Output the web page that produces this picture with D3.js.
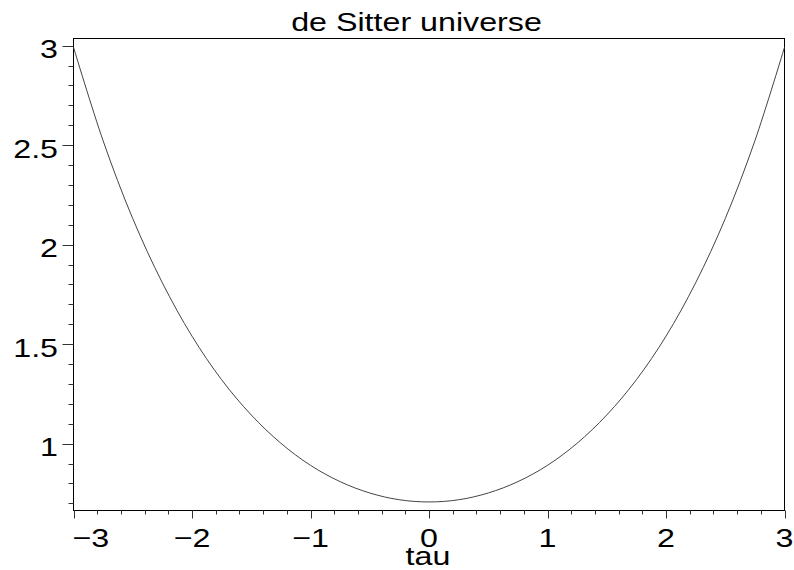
<!DOCTYPE html>
<html>
<head>
<meta charset="utf-8">
<script src="https://cdn.jsdelivr.net/npm/d3@7"></script>
<style>
  html, body { margin: 0; padding: 0; background: #fff; }
  svg { display: block; }
  text { font-family: "Liberation Sans", Arial, Helvetica, sans-serif; fill: #000; }
</style>
</head>
<body>
<svg id="chart" width="794" height="570"></svg>
<script>
// ---- data ----
const tau = [-3, -2.75, -2.5, -2.25, -2, -1.75, -1.5, -1.25, -1, -0.75, -0.5, -0.25,
             0, 0.25, 0.5, 0.75, 1, 1.25, 1.5, 1.75, 2, 2.25, 2.5, 2.75, 3];
const aValues = [2.992, 2.522, 2.131, 1.808, 1.540, 1.321, 1.144, 1.002, 0.891, 0.809, 0.752, 0.718,
                 0.707, 0.718, 0.752, 0.809, 0.891, 1.002, 1.144, 1.321, 1.540, 1.808, 2.131, 2.522, 2.992];
const xTicks = [-3, -2, -1, 0, 1, 2, 3];
const xTickLabels = ["\u22123", "\u22122", "\u22121", "0", "1", "2", "3"];
const yTicks = [1, 1.5, 2, 2.5, 3];
const yTickLabels = ["1", "1.5", "2", "2.5", "3"];
const titleText = "de Sitter universe";
const xLabelText = "tau";

// ---- layout ----
const svg = d3.select("#chart");
const x = d3.scaleLinear().domain([-3, 3]).range([73.5, 784.5]);
const y = d3.scaleLinear().domain([0.664, 3.036]).range([510.5, 38.5]);
const stretch = 1.24, fs = 26;

function stretchedText(px, py, str, anchor) {
  return svg.append("text")
    .attr("transform", `translate(${px},${py}) scale(${stretch},1)`)
    .attr("text-anchor", anchor)
    .style("font-size", fs + "px")
    .text(str);
}

// frame
svg.append("rect")
  .attr("x", x(-3)).attr("y", y(3.036))
  .attr("width", x(3) - x(-3)).attr("height", y(0.664) - y(3.036))
  .attr("fill", "none").attr("stroke", "#000").attr("stroke-width", 1);

// minor ticks
const xMinor = d3.range(-30, 31, 2).map(d => d / 10);
svg.append("g").selectAll("line").data(xMinor).join("line")
  .attr("x1", d => Math.round(x(d)) + 0.5).attr("x2", d => Math.round(x(d)) + 0.5)
  .attr("y1", y.range()[0]).attr("y2", d => y.range()[0] + (xTicks.includes(d) ? 8 : 4))
  .attr("stroke", "#333").attr("stroke-width", 1);

const yMinor = d3.range(7, 31).map(d => d / 10);
svg.append("g").selectAll("line").data(yMinor).join("line")
  .attr("y1", d => Math.round(y(d)) + 0.5).attr("y2", d => Math.round(y(d)) + 0.5)
  .attr("x1", x.range()[0]).attr("x2", d => x.range()[0] - (yTicks.some(t => Math.abs(t - d) < 1e-9) ? 11 : 5))
  .attr("stroke", "#333").attr("stroke-width", 1);

// x tick labels
xTicks.forEach((t, i) => {
  if (i === 0) stretchedText(x(t) - 1, 546.5, xTickLabels[i], "start");
  else stretchedText(x(t), 546.5, xTickLabels[i], "middle");
});

// y tick labels
yTicks.forEach((t, i) => {
  stretchedText(58, y(t) + 12.5, yTickLabels[i], "end");
});

// title and axis label
stretchedText(416.5, 31, titleText, "middle");
stretchedText(428, 565, xLabelText, "middle");

// curve
const pts = tau.map((t, i) => [t, aValues[i]]);
svg.append("path")
  .datum(pts)
  .attr("fill", "none")
  .attr("stroke", "#444")
  .attr("stroke-width", 1)
  .attr("d", d3.line().x(d => x(d[0])).y(d => y(d[1])).curve(d3.curveCatmullRom.alpha(0.5)));
</script>
</body>
</html>
